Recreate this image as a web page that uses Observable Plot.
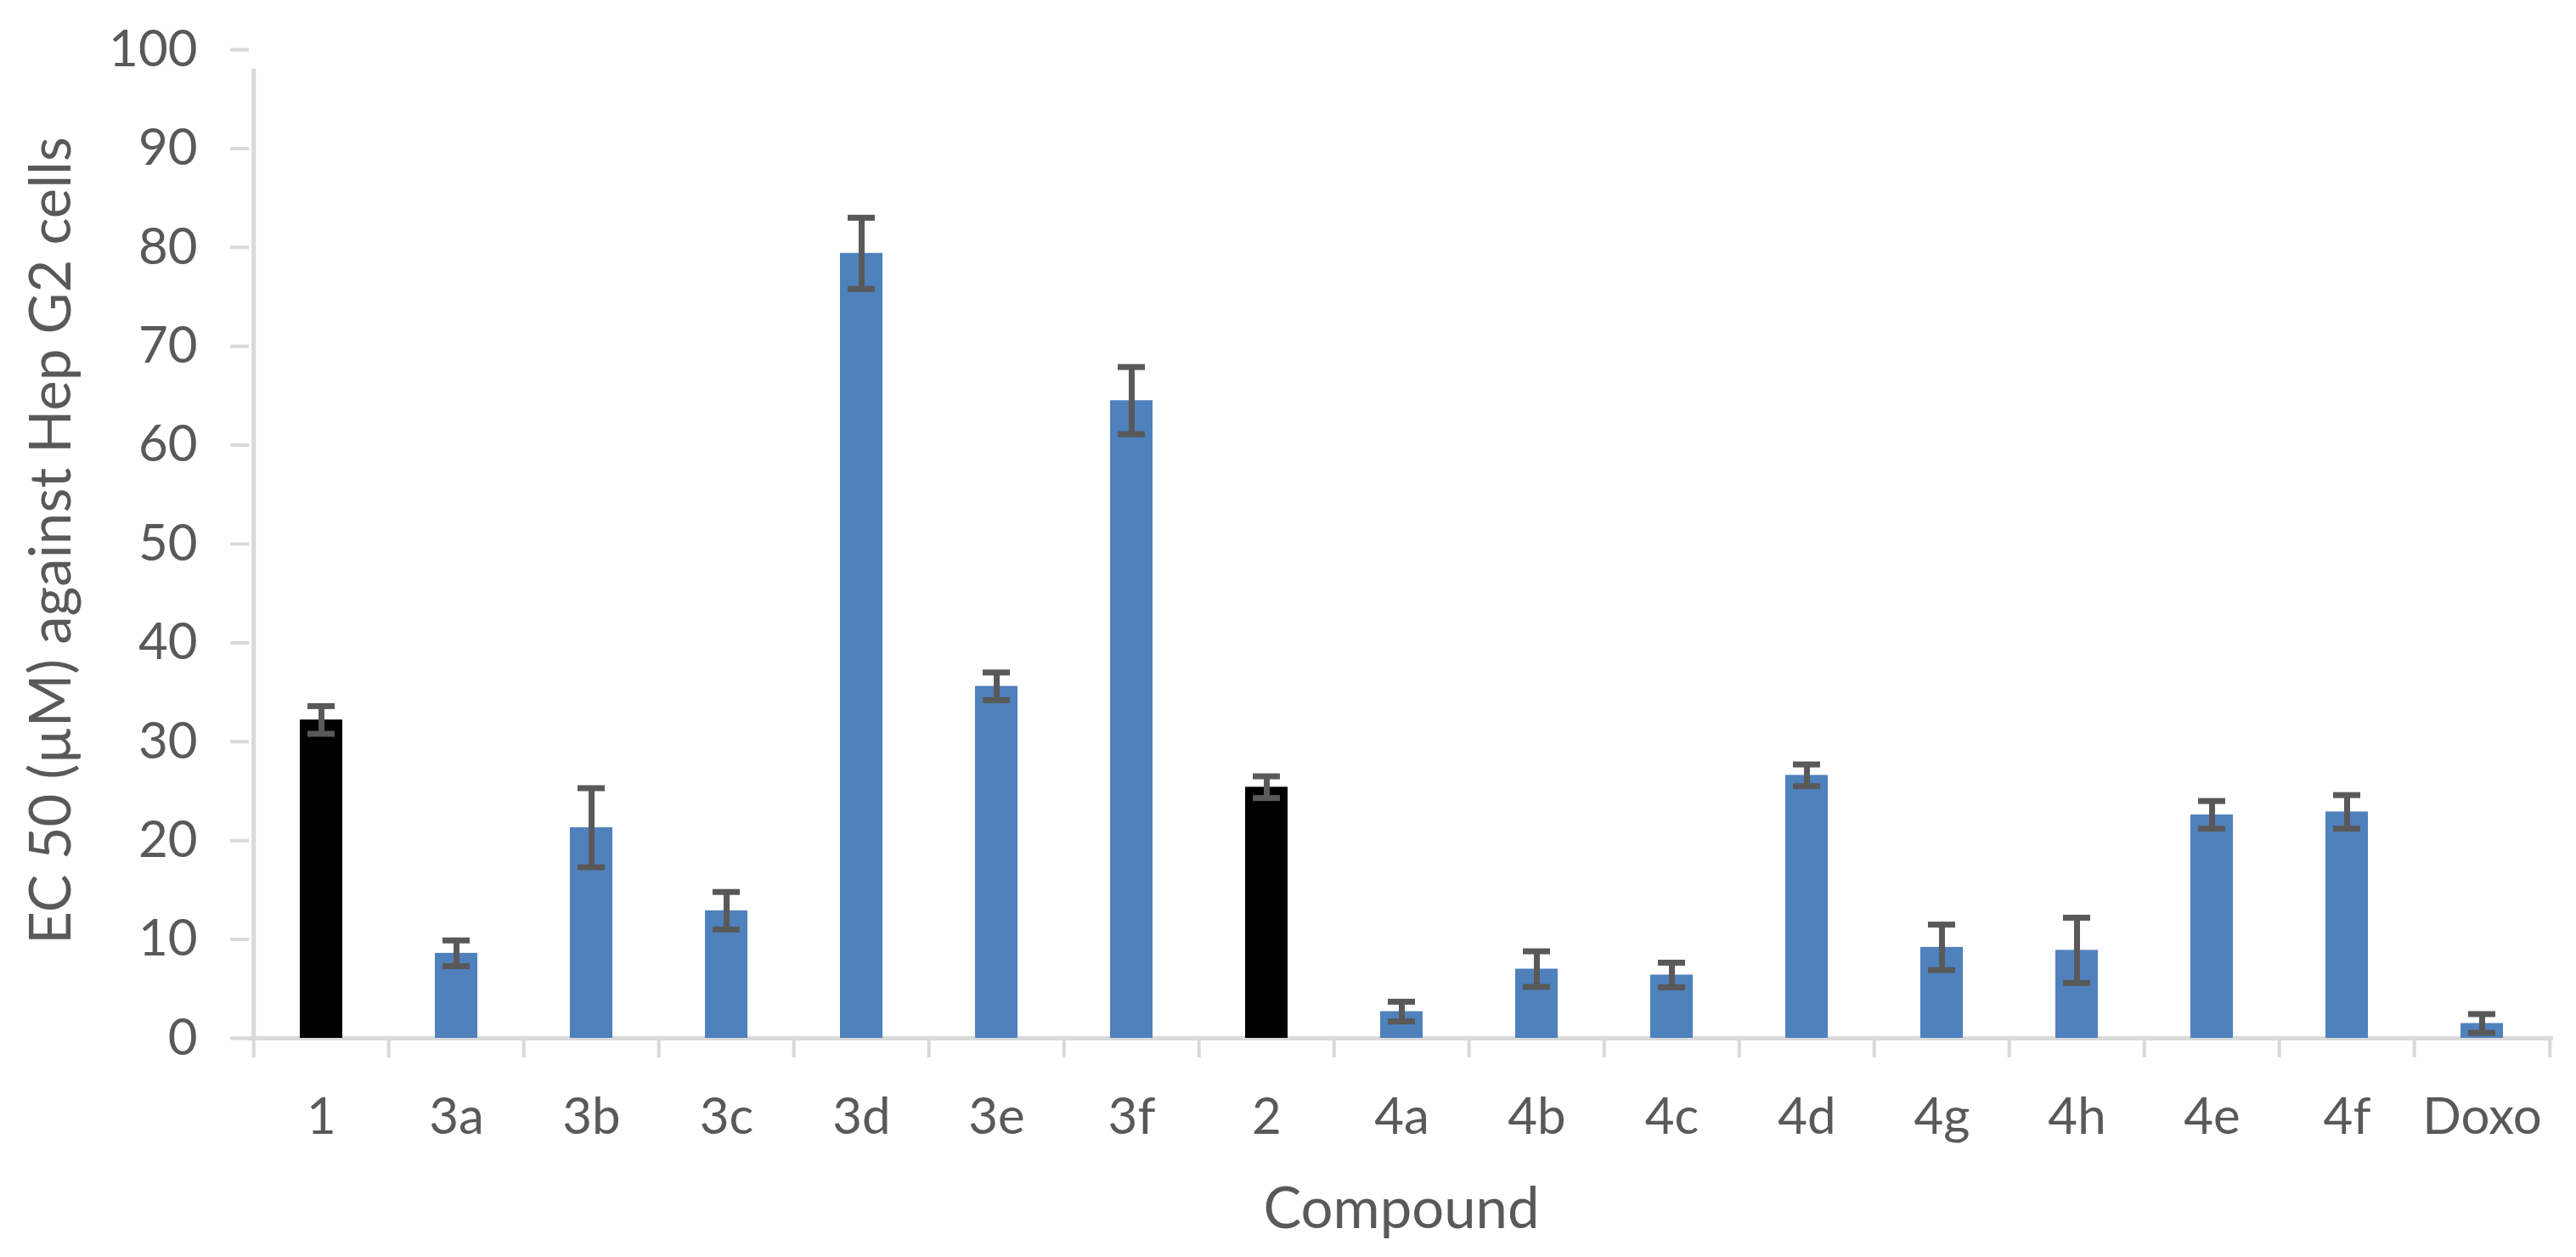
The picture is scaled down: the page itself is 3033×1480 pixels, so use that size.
<!DOCTYPE html>
<html>
<head>
<meta charset="utf-8">
<script src="https://cdn.jsdelivr.net/npm/d3@7"></script>
<script src="https://cdn.jsdelivr.net/npm/@observablehq/plot@0.6"></script>
<style>
  html, body { margin: 0; padding: 0; background: #ffffff; }
  #chart svg { display: block; }
</style>
</head>
<body>
<div id="chart"></div>
<script>
// ---- data ----
const compounds = ["1", "3a", "3b", "3c", "3d", "3e", "3f", "2", "4a", "4b", "4c", "4d", "4g", "4h", "4e", "4f", "Doxo"];
const ec50 = [32.2, 8.6, 21.3, 12.9, 79.4, 35.6, 64.5, 25.4, 2.7, 7.0, 6.4, 26.6, 9.2, 8.9, 22.6, 22.9, 1.5];
const errors = [1.4, 1.3, 4.0, 1.9, 3.6, 1.4, 3.4, 1.1, 1.0, 1.8, 1.25, 1.1, 2.3, 3.3, 1.4, 1.7, 0.95];
const kinds = ["parent", "derivative", "derivative", "derivative", "derivative", "derivative", "derivative",
               "parent", "derivative", "derivative", "derivative", "derivative", "derivative", "derivative",
               "derivative", "derivative", "derivative"];
const yTicks = [0, 10, 20, 30, 40, 50, 60, 70, 80, 90, 100];
const xTitle = "Compound";
const yTitle = "EC 50 (µM) against Hep G2 cells";

const data = compounds.map((c, i) => ({compound: c, value: ec50[i], err: errors[i], kind: kinds[i]}));

// ---- layout / style ----
const W = 3033, H = 1480;
const ML = 293, MR = 27, MT = 58, MB = 258;
const step = (W - ML - MR) / compounds.length;
const axisColor = "#d9d9d9";
const textColor = "#595959";
const font = "Lato, 'Open Sans', sans-serif";

const chart = Plot.plot({
  width: W,
  height: H,
  marginLeft: ML,
  marginRight: MR,
  marginTop: MT,
  marginBottom: MB,
  style: {fontFamily: font, fontSize: "60px", background: "#ffffff", color: textColor},
  x: {domain: compounds, paddingInner: 0.686, paddingOuter: 0.343, align: 0.5},
  y: {domain: [0, 100]},
  color: {domain: ["parent", "derivative"], range: ["#000000", "#4F81BD"]},
  marks: [
    // x axis line
    Plot.ruleY([0], {stroke: axisColor, strokeWidth: 5}),
    // y axis line (at the left boundary of the first category)
    Plot.ruleX([compounds[0]], {x: d => d, y1: 0, y2: 100, dx: -step / 2, insetBottom: -23, stroke: axisColor, strokeWidth: 5}),
    // category boundary ticks
    Plot.ruleX(compounds, {x: d => d, y1: 0, y2: 0, dx: -step / 2, insetBottom: -23, stroke: axisColor, strokeWidth: 4}),
    Plot.ruleX([compounds[compounds.length - 1]], {x: d => d, y1: 0, y2: 0, dx: step / 2, insetBottom: -23, stroke: axisColor, strokeWidth: 4}),
    Plot.axisY({ticks: yTicks, tickSize: 22, tickPadding: 39, stroke: axisColor, strokeWidth: 4, fill: textColor, fontSize: 60, tickFormat: d => String(d), label: null}),
    Plot.axisX({tickSize: 0, tickPadding: 70, fill: textColor, fontSize: 60, label: null}),
    Plot.barY(data, {x: "compound", y: "value", fill: "kind"}),
    Plot.ruleX(data, {x: "compound", y1: d => d.value - d.err, y2: d => d.value + d.err, stroke: "#595959", strokeWidth: 7}),
    Plot.tickY(data, {x: "compound", y: d => d.value + d.err, stroke: "#595959", strokeWidth: 7, inset: 9}),
    Plot.tickY(data, {x: "compound", y: d => d.value - d.err, stroke: "#595959", strokeWidth: 7, inset: 9}),
    Plot.text([xTitle], {text: d => d, frameAnchor: "bottom", textAnchor: "middle", lineAnchor: "middle", dy: 201.6, fontSize: 67, fill: textColor}),
    Plot.text([yTitle], {text: d => d, frameAnchor: "left", textAnchor: "middle", lineAnchor: "middle", dx: -232.4, dy: -4, rotate: -90, fontSize: 67, fill: textColor})
  ]
});

document.getElementById("chart").appendChild(chart);
</script>
</body>
</html>
